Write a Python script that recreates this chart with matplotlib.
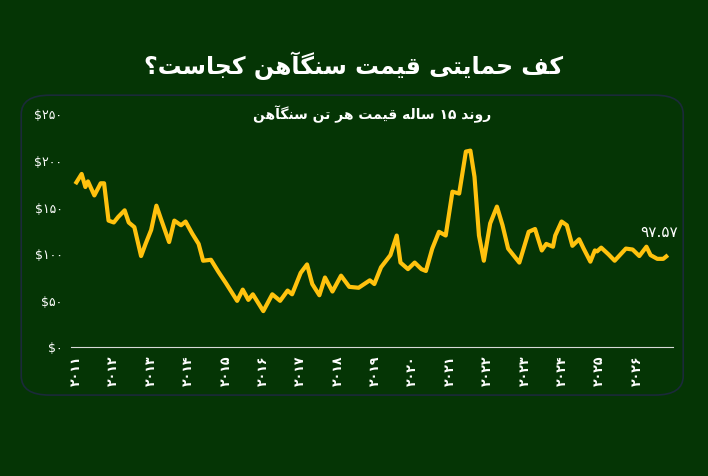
import re
import matplotlib
matplotlib.use("Agg")
import matplotlib.pyplot as plt
from matplotlib.patches import FancyBboxPatch

# iron ore price, USD per tonne
years = [2011.0, 2011.14, 2011.24, 2011.31, 2011.48, 2011.65, 2011.74, 2011.86, 2012.0, 2012.12,
         2012.29, 2012.4, 2012.55, 2012.73, 2012.85, 2013.0, 2013.14, 2013.26, 2013.48, 2013.62,
         2013.8, 2013.92, 2014.1, 2014.27, 2014.39, 2014.6, 2014.8, 2015.0, 2015.3, 2015.45,
         2015.6, 2015.72, 2016.0, 2016.24, 2016.45, 2016.65, 2016.77, 2017.0, 2017.17, 2017.31,
         2017.5, 2017.65, 2017.85, 2018.08, 2018.3, 2018.55, 2018.85, 2018.97, 2019.15, 2019.4,
         2019.57, 2019.67, 2019.87, 2020.05, 2020.23, 2020.35, 2020.52, 2020.7, 2020.88, 2021.06,
         2021.24, 2021.42, 2021.54, 2021.65, 2021.77, 2021.9, 2022.07, 2022.25, 2022.4, 2022.55,
         2022.85, 2023.1, 2023.27, 2023.45, 2023.57, 2023.75, 2023.81, 2023.98, 2024.12, 2024.27,
         2024.45, 2024.57, 2024.75, 2024.87, 2024.93, 2025.04, 2025.23, 2025.4, 2025.7, 2025.88,
         2026.06, 2026.25, 2026.36, 2026.54, 2026.7, 2026.78]
prices = [177, 186, 172, 178, 163, 176, 176, 136, 134, 140,
          147, 134, 129, 98, 111, 126, 152, 138, 113, 136,
          131, 135, 122, 111, 93, 94, 81, 69, 50, 62,
          51, 57, 39, 57, 50, 61, 57, 80, 89, 68,
          56, 75, 60, 77, 65, 64, 72, 68, 86, 99,
          120, 91, 84, 91, 84, 82, 106, 124, 120, 167,
          165, 210, 211, 183, 120, 93, 133, 151, 131, 106,
          91, 124, 127, 104, 111, 108, 120, 135, 131, 109,
          116, 106, 92, 104, 103, 107, 100, 93, 106, 105,
          98, 108, 99, 95, 95, 97.57]
year_labels = list(range(2011, 2027))
y_ticks = [0, 50, 100, 150, 200, 250]
title = "کف حمایتی قیمت سنگآهن کجاست؟"
subtitle = "روند ۱۵ ساله قیمت هر تن سنگآهن"
last_label = "۹۷.۵۷"

# tiny persian shaper: letter -> (isolated, final, initial, medial)
FORMS = {
    "ا": (0xFE8D, 0xFE8E, None, None), "آ": (0xFE81, 0xFE82, None, None),
    "ر": (0xFEAD, 0xFEAE, None, None), "و": (0xFEED, 0xFEEE, None, None),
    "د": (0xFEA9, 0xFEAA, None, None),
    "ت": (0xFE95, 0xFE96, 0xFE97, 0xFE98), "ج": (0xFE9D, 0xFE9E, 0xFE9F, 0xFEA0),
    "ح": (0xFEA1, 0xFEA2, 0xFEA3, 0xFEA4), "س": (0xFEB1, 0xFEB2, 0xFEB3, 0xFEB4),
    "ف": (0xFED1, 0xFED2, 0xFED3, 0xFED4), "ق": (0xFED5, 0xFED6, 0xFED7, 0xFED8),
    "ل": (0xFEDD, 0xFEDE, 0xFEDF, 0xFEE0), "م": (0xFEE1, 0xFEE2, 0xFEE3, 0xFEE4),
    "ن": (0xFEE5, 0xFEE6, 0xFEE7, 0xFEE8), "ه": (0xFEE9, 0xFEEA, 0xFEEB, 0xFEEC),
    "ک": (0xFB8E, 0xFB8F, 0xFB90, 0xFB91), "گ": (0xFB92, 0xFB93, 0xFB94, 0xFB95),
    "ی": (0xFBFC, 0xFBFD, 0xFBFE, 0xFBFF),
}


def shape(s):
    out = []
    for i, c in enumerate(s):
        if c not in FORMS:
            out.append(c)
            continue
        prev = s[i - 1] if i > 0 else ""
        nxt = s[i + 1] if i + 1 < len(s) else ""
        joins_prev = prev in FORMS and FORMS[prev][2] is not None
        joins_next = nxt in FORMS and FORMS[c][2] is not None
        iso, fin, ini, med = FORMS[c]
        if joins_prev and joins_next:
            code = med
        elif joins_prev:
            code = fin
        elif joins_next:
            code = ini
        else:
            code = iso
        out.append(chr(code))
    vis = "".join(out)[::-1]
    # keep digit runs left to right
    return re.sub(r"[۰-۹]+", lambda m: m.group(0)[::-1], vis)


def fa_digits(n):
    return str(n).translate(str.maketrans("0123456789", "۰۱۲۳۴۵۶۷۸۹"))


plt.rcParams['font.family'] = ['DejaVu Sans']
bg = "#053505"
fig = plt.figure(figsize=(7.08, 4.76), dpi=100, facecolor=bg)

fig.text(0.5, 0.862, shape(title), ha="center", va="center", color="white",
         fontsize=17, fontweight="bold")

panel = FancyBboxPatch((0.03, 0.17), 0.935, 0.63, boxstyle="round,pad=0,rounding_size=0.04",
                       transform=fig.transFigure, facecolor=bg, edgecolor="#1b2a3a", lw=1.2,
                       zorder=-5)
fig.patches.append(panel)

ax = fig.add_axes([0.1, 0.27, 0.85, 0.49])
ax.set_zorder(2)
ax.patch.set_alpha(0)
ax.plot(years, prices, color="#ffc20e", lw=3, solid_joinstyle="round")
ax.set_xlim(2010.85, 2026.95)
ax.set_ylim(0, 250)
ax.set_yticks(y_ticks)
ax.set_yticklabels(["$" + fa_digits(v) for v in y_ticks], color="white", fontsize=9)
ax.set_xticks(year_labels)
ax.set_xticklabels([fa_digits(y) for y in year_labels], rotation=90, color="white",
                   fontsize=9, fontweight="bold")
ax.tick_params(length=0, pad=6)
for s in ["top", "right", "left"]:
    ax.spines[s].set_visible(False)
ax.spines["bottom"].set_color("#d8d8d8")
ax.text(0.5, 1.0, shape(subtitle), transform=ax.transAxes, ha="center", va="center",
        color="white", fontsize=10, fontweight="bold")
ax.annotate(last_label, (years[-1], prices[-1]), xytext=(-5, 14), textcoords="offset points",
            ha="center", color="white", fontsize=11)

fig.savefig("out.png", facecolor=bg)
